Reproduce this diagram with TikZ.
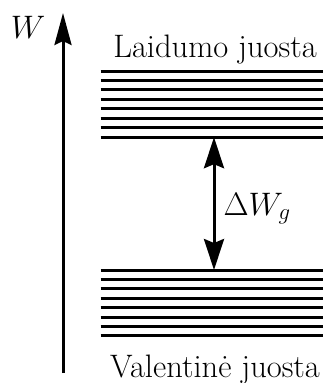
\RequirePackage{fix-cm}
\documentclass[tikz,border=0pt]{standalone}
\usepackage{fontspec}
\usetikzlibrary{arrows.meta}

\tikzset{
  lygmuo/.style={line width=3pt},
  juostosvardas/.style={font=\fontsize{32.5}{39}\selectfont, inner sep=0pt, anchor=base},
}

\begin{document}
\begin{tikzpicture}[x=1pt, y=-1pt, line width=3pt]
				\useasboundingbox (0,0) rectangle (323,383);
				% energijos ašis
				\coordinate (asisApacia) at (63,373);
				\coordinate (asisVirsus) at (63,13);
				\draw[-{Stealth[length=32pt,width=17pt,inset=4pt]}] (asisApacia) -- (asisVirsus);
				\node[juostosvardas, anchor=base] (W) at (28,38) {$W$};
				
				% laidumo juosta
				\foreach \i in {0,...,7}
					\draw[lygmuo] (100.5,{71+9.46*\i}) -- (323,{71+9.46*\i});
				\node[juostosvardas] (laidumo) at (215,57) {Laidumo juosta};
				
				% valentinė juosta
				\foreach \i in {0,...,7}
					\draw[lygmuo] (100.5,{270+9.4*\i}) -- (323,{270+9.4*\i});
				\node[juostosvardas] (valentine) at (215,377) {Valentinė juosta};
				
				% draudžiamoji juosta
				\coordinate (gVirsus) at (214,137.2);
				\coordinate (gApacia) at (214,270);
				\draw[{Stealth[length=31pt,width=20pt,inset=4pt]}-{Stealth[length=31pt,width=20pt,inset=4pt]}] (gVirsus) -- (gApacia);
				\node[juostosvardas, anchor=base west] (tarpas) at (222,215) {$\Delta W_g$};
			\end{tikzpicture}
\end{document}
